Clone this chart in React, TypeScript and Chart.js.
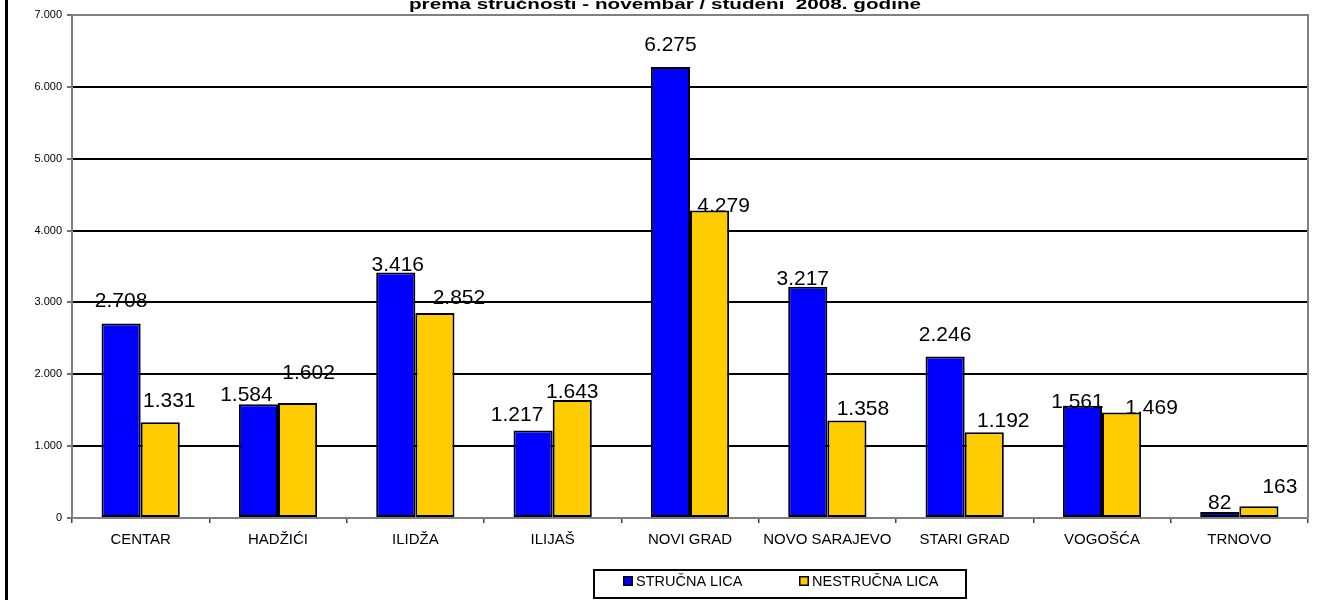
import React, { useEffect, useRef } from "react";
import { Chart, registerables } from "chart.js";

Chart.register(...registerables);

const categories = ["CENTAR", "HADŽIĆI", "ILIDŽA", "ILIJAŠ", "NOVI GRAD", "NOVO SARAJEVO", "STARI GRAD", "VOGOŠĆA", "TRNOVO"];
const strucnaLica = [2708, 1584, 3416, 1217, 6275, 3217, 2246, 1561, 82];
const nestrucnaLica = [1331, 1602, 2852, 1643, 4279, 1358, 1192, 1469, 163];
const seriesNames = ["STRUČNA LICA", "NESTRUČNA LICA"];
const yMin = 0;
const yMax = 7000;
const yStep = 1000;
const titleText = "prema stručnosti - novembar / studeni  2008. godine";

// label nudges (px) reproducing the hand-placed data labels of the original
const labelDx = [
  [0, -12, 2, -16, 0, -5, 0, -5, 0],
  [9, 11, 24, 0, 14, 16, 19, 30, 21],
];
const labelDy = [
  [-24, -11, -9, -17, -24, -9, -23, -5, -11],
  [-23, -31, -17, -9, -6, -13, -13, -6, -21],
];

const FONT = '"Liberation Sans", Arial, sans-serif';
const fmt = (v: number) => String(v).replace(/\B(?=(\d{3})+(?!\d))/g, ".");

const decorPlugin = {
  id: "decor",
  afterDatasetsDraw(chart: any) {
    const ctx = chart.ctx;
    const area = chart.chartArea;
    ctx.save();
    // right border of plot area
    ctx.strokeStyle = "#808080";
    ctx.lineWidth = 2;
    ctx.beginPath();
    ctx.moveTo(area.right, area.top - 1);
    ctx.lineTo(area.right, area.bottom);
    ctx.stroke();
    // data labels
    ctx.fillStyle = "#000";
    ctx.font = `21px ${FONT}`;
    ctx.textAlign = "center";
    ctx.textBaseline = "alphabetic";
    chart.data.datasets.forEach((ds: any, di: number) => {
      const meta = chart.getDatasetMeta(di);
      meta.data.forEach((el: any, i: number) => {
        const cx = el.x + labelDx[di][i];
        const cy = el.y + labelDy[di][i];
        ctx.fillText(fmt(ds.data[i]), cx, cy + 7.5);
      });
    });
    ctx.restore();
  },
  afterDraw(chart: any) {
    const ctx = chart.ctx;
    const area = chart.chartArea;
    ctx.save();
    // left frame line
    ctx.strokeStyle = "#000";
    ctx.lineWidth = 3;
    ctx.beginPath();
    ctx.moveTo(6.5, 0);
    ctx.lineTo(6.5, chart.height);
    ctx.stroke();
    // title (second line of the original title, cut at top)
    ctx.fillStyle = "#000";
    ctx.font = `bold 15px ${FONT}`;
    ctx.textAlign = "center";
    ctx.textBaseline = "alphabetic";
    const w = ctx.measureText(titleText).width;
    const sx = 512 / w;
    ctx.translate(665, 8.5);
    ctx.scale(sx, 1);
    ctx.fillText(titleText, 0, 0);
    ctx.restore();

    // legend
    ctx.save();
    const lx = 593, ly = 569, lw = 374, lh = 30;
    ctx.fillStyle = "#fff";
    ctx.fillRect(lx, ly, lw, lh);
    ctx.strokeStyle = "#000";
    ctx.lineWidth = 2;
    ctx.strokeRect(lx + 1, ly + 1, lw - 2, lh - 2);
    const itemX = [623, 799];
    ctx.font = `14.5px ${FONT}`;
    ctx.textAlign = "left";
    ctx.textBaseline = "alphabetic";
    chart.data.datasets.forEach((ds: any, di: number) => {
      const x = itemX[di];
      ctx.fillStyle = ds.backgroundColor;
      ctx.fillRect(x, 576, 10, 10);
      ctx.strokeStyle = "#000";
      ctx.lineWidth = 1.5;
      ctx.strokeRect(x + 0.75, 576.75, 8.5, 8.5);
      ctx.fillStyle = "#000";
      ctx.fillText(ds.label, x + 13, 586);
    });
    ctx.restore();
  },
};

export default function App() {
  const ref = useRef<HTMLCanvasElement | null>(null);
  useEffect(() => {
    if (!ref.current) return;
    const chart = new Chart(ref.current, {
      type: "bar",
      data: {
        labels: categories,
        datasets: [
          {
            label: seriesNames[0],
            data: strucnaLica,
            backgroundColor: "#0000FF",
            borderColor: "#000",
            borderWidth: 2,
            borderSkipped: false,
          },
          {
            label: seriesNames[1],
            data: nestrucnaLica,
            backgroundColor: "#FFCC00",
            borderColor: "#000",
            borderWidth: 2,
            borderSkipped: false,
          },
        ],
      },
      options: {
        animation: false,
        responsive: true,
        maintainAspectRatio: false,
        layout: { padding: { top: 15, right: 9, left: 0, bottom: 0 } },
        datasets: { bar: { categoryPercentage: 0.57, barPercentage: 1.0 } },
        plugins: {
          legend: { display: false },
          title: { display: false },
          tooltip: { enabled: false },
        },
        scales: {
          x: {
            afterFit: (s: any) => { s.height = 82; },
            grid: {
              offset: true,
              drawOnChartArea: false,
              drawTicks: true,
              tickLength: 5,
              color: "#404040",
              lineWidth: 1.5,
            },
            border: { color: "#808080", width: 2 },
            ticks: {
              color: "#000",
              font: { family: FONT, size: 15 },
              padding: 8,
              maxRotation: 0,
              autoSkip: false,
            },
          },
          y: {
            min: yMin,
            max: yMax,
            afterFit: (s: any) => { s.width = 72; },
            grid: {
              color: (c: any) => (c.tick && (c.tick.value === yMax || c.tick.value === yMin) ? "#808080" : "#000"),
              lineWidth: 2,
              drawTicks: true,
              tickLength: 5,
              tickColor: "#404040",
              tickWidth: 1.5,
            },
            border: { color: "#808080", width: 2 },
            ticks: {
              stepSize: yStep,
              color: "#000",
              font: { family: FONT, size: 11 },
              padding: 5,
              callback: (v: any) => fmt(Number(v)),
            },
          },
        },
      },
      plugins: [decorPlugin],
    });
    return () => chart.destroy();
  }, []);
  return (
    <div style={{ position: "absolute", left: 0, top: 0, width: 1317, height: 600, background: "#fff" }}>
      <canvas ref={ref} />
    </div>
  );
}
